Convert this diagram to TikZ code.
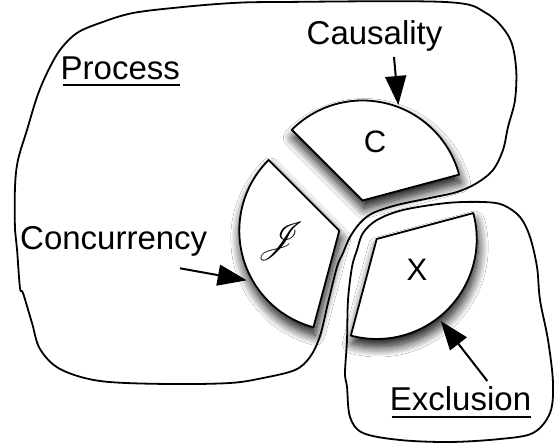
\documentclass[tikz,border=0pt]{standalone}
\usepackage{fontspec}
\setmainfont{Liberation Sans}
\usepackage{mathrsfs}
\usetikzlibrary{arrows.meta,shadows.blur}
\tikzset{
  solid ink/.style={draw opacity=1, fill opacity=1, text opacity=1},
  outline/.style={solid ink, line width=1.8pt, line join=round},
  sector/.style={outline, draw=black, fill=white,
    blur shadow={shadow xshift=1.5pt, shadow yshift=-8pt, shadow blur radius=10pt, shadow blur steps=14, shadow opacity=95}},
  txt/.style={solid ink, text=black, font=\fontsize{33}{40}\selectfont, inner sep=0pt, anchor=base west},
  letter/.style={solid ink, text=black, font=\fontsize{31}{36}\selectfont, inner sep=0pt},
  pointer/.style={solid ink, draw=black, line width=2pt, -{Triangle[length=29pt,width=21pt,fill=black]}},
  ul/.style={solid ink, line width=2pt},
}
\begin{document}
\begin{tikzpicture}[x=1pt,y=1pt]
\fill[white] (0,0) rectangle (559,446);
\useasboundingbox (0,0) rectangle (559,446);

% sectors
\coordinate (capex) at (362.5,245.5);
\coordinate (japex) at (339.3,215.3);
\coordinate (xapex) at (376.7,207);
\path[sector] (capex) -- ++(135:100) arc[start angle=135, end angle=15, radius=100] -- cycle;
\path[sector] (japex) -- ++(135:100) arc[start angle=135, end angle=255, radius=100] -- cycle;
\path[sector] (xapex) -- ++(15:100) arc[start angle=15, end angle=-105, radius=100] -- cycle;

\begin{scope}[solid ink]
% Process region
\draw[outline] plot[smooth cycle, tension=0.55] coordinates {
 (15,216) (15,259) (18,286) (27,316) (37,349) (47,373) (60,396) (77,413) (100,423)
 (133,433) (183,439) (233,443) (280,444) (445,444) (486,433) (509,409) (516,379)
 (515,346) (508,319) (503,296) (493,276) (477,263) (457,254) (430,248) (397,241)
 (373,233) (360,223) (350,209) (343,193) (337,179) (328,143) (320,110) (310,89)
 (295,76) (263,68) (230,63) (167,62) (100,65) (60,77) (40,97) (32,123) (23,153)
 (20,158) (17,197)};

% Exclusion region
\draw[outline] plot[smooth cycle, tension=0.55] coordinates {
 (530,209) (537,179) (540,146) (548,106) (553,63) (550,33) (533,13) (500,7) (450,4)
 (400,6) (363,13) (350,29) (347,59) (345,73) (347,106) (348,146) (352,179) (357,196)
 (363,213) (377,226) (403,236) (447,243) (483,244) (503,241) (520,229)};

% sector letters
\node[letter] (cl) at (375,304) {C};
\node[letter] (xl) at (417,176) {X};
\node[letter] (jl) at (281,205) {\resizebox*{!}{38pt}{$\mathscr{J}$}};

% labels
\node[txt] (caus) at (306.5,401) {Causality};
\node[txt] (proc) at (60.5,366) {Process};
\node[txt] (conc) at (20,196.7) {Concurrency};
\node[txt] (excl) at (389.7,35) {Exclusion};
\draw[ul] ([xshift=2pt,yshift=-5pt]proc.base west) -- ([yshift=-5pt]proc.base east);
\draw[ul] ([xshift=2pt,yshift=-6pt]excl.base west) -- ([yshift=-6pt]excl.base east);

% pointers
\coordinate (ctail) at (394,389);
\coordinate (ctip) at (398.3,341);
\coordinate (jtail) at (180,177.7);
\coordinate (jtip) at (246.7,165.7);
\coordinate (xtail) at (487.3,65);
\coordinate (xtip) at (440.7,125);
\draw[pointer] (ctail) -- (ctip);
\draw[pointer] (jtail) -- (jtip);
\draw[pointer] (xtail) -- (xtip);
\end{scope}
\end{tikzpicture}
\end{document}
